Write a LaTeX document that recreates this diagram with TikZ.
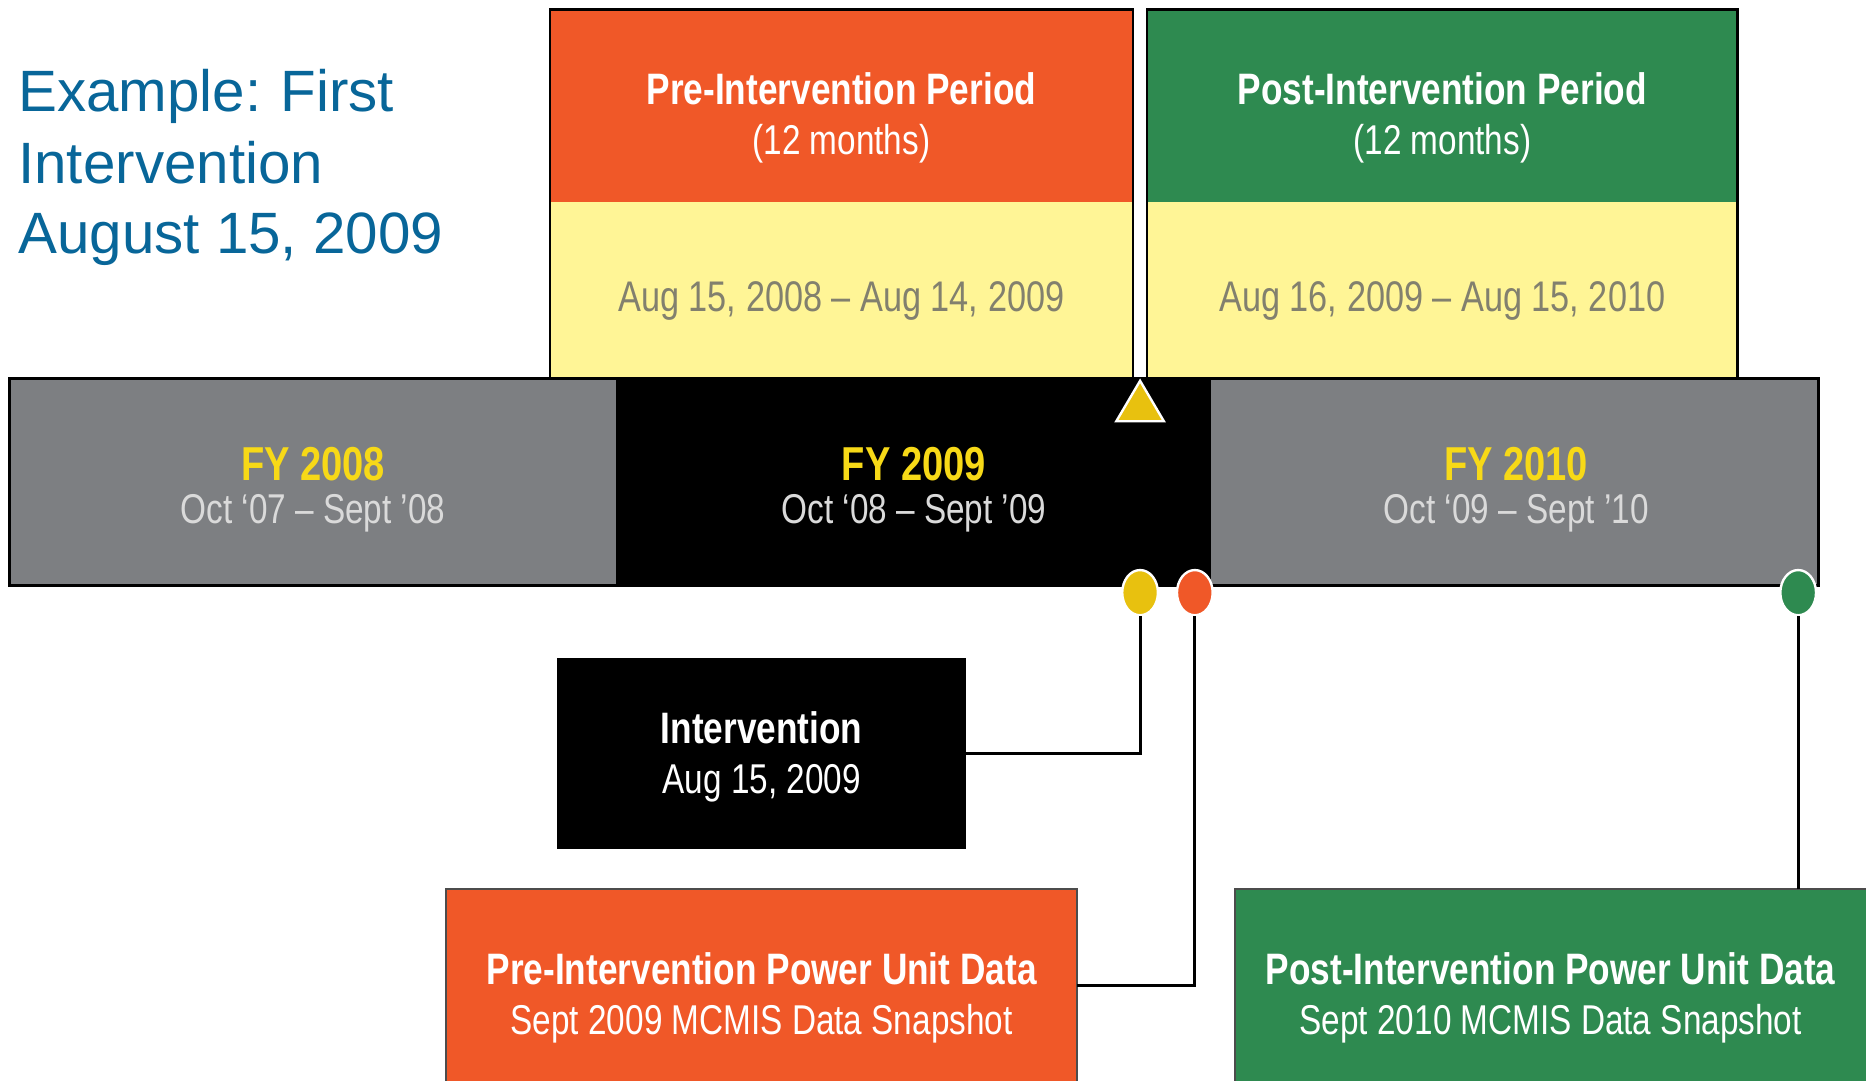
\documentclass[tikz,border=0pt]{standalone}
\usepackage{fontspec}
\setmainfont{Liberation Sans}
\newfontfamily\cond[FakeStretch=0.8]{Liberation Sans}
\usetikzlibrary{shapes.geometric}
\definecolor{ttlblue}{RGB}{8,102,153}
\definecolor{orng}{RGB}{240,88,40}
\definecolor{grn}{RGB}{46,138,80}
\definecolor{lyel}{RGB}{255,245,150}
\definecolor{bargray}{RGB}{125,127,130}
\definecolor{fyyel}{RGB}{247,217,23}
\definecolor{datetxt}{RGB}{130,128,110}
\definecolor{ltxt}{RGB}{218,218,218}
\definecolor{triyel}{RGB}{232,193,15}
\tikzset{
  box/.style={rectangle, inner sep=0pt, outer sep=0pt},
  boldtxt/.style={font=\cond\bfseries\fontsize{18.5}{22}\selectfont, anchor=base, inner sep=0pt},
  regtxt/.style={font=\cond\fontsize{17.5}{22}\selectfont, anchor=base, inner sep=0pt},
  fytxt/.style={font=\cond\bfseries\fontsize{20}{24}\selectfont, anchor=base, inner sep=0pt, text=fyyel},
  ttl/.style={font=\fontsize{24.5}{29}\selectfont, anchor=base west, inner sep=0pt, text=ttlblue},
  dot/.style={ellipse, minimum width=15pt, minimum height=19pt, inner sep=0pt, draw=white, line width=1pt},
  conn/.style={draw=black, line width=1.2pt}
}
\begin{document}
\begin{tikzpicture}[x=0.5pt,y=-0.5pt]
\useasboundingbox (0,0) rectangle (1568,908);
\clip (0,0) rectangle (1568,908);
\fill[white] (0,0) rectangle (1568,908);
% title
\node[ttl] (t1) at (15,94) {Example:\kern-1pt{} First};
\node[ttl] (t2) at (15,154) {Intervention};
\node[ttl] (t3) at (15,213) {August 15, 2009};
% pre period
\node[box, fill=orng, minimum width=245pt, minimum height=81pt] (pretop) at (707,89) {};
\node[box, fill=lyel, minimum width=245pt, minimum height=74pt] (prebot) at (707,244) {};
\draw[line width=1pt] (pretop.north west) rectangle (prebot.south east);
\node[boldtxt, text=white] (pret1) at (707,88) {Pre-Intervention Period};
\node[regtxt, text=white] (pret2) at (707,130) {(12 months)};
\node[regtxt, text=datetxt, font=\cond\fontsize{18}{22}\selectfont] (pred) at (707,262) {Aug 15, 2008 – Aug 14, 2009};
% post period
\node[box, fill=grn, minimum width=248pt, minimum height=81pt] (posttop) at (1212,89) {};
\node[box, fill=lyel, minimum width=248pt, minimum height=74pt] (postbot) at (1212,244) {};
\draw[line width=1pt] (posttop.north west) rectangle (postbot.south east);
\node[boldtxt, text=white] (postt1) at (1212,88) {Post-Intervention Period};
\node[regtxt, text=white] (postt2) at (1212,130) {(12 months)};
\node[regtxt, text=datetxt, font=\cond\fontsize{18}{22}\selectfont] (postd) at (1212,262) {Aug 16, 2009 – Aug 15, 2010};
% timeline bar
\node[box, fill=bargray, minimum width=255pt, minimum height=87pt] (fy8) at (263,405) {};
\node[box, fill=black, minimum width=250pt, minimum height=87pt] (fy9) at (768,405) {};
\node[box, fill=bargray, minimum width=255pt, minimum height=87pt] (fy10) at (1273,405) {};
\draw[line width=1.5pt] (fy8.north west) rectangle (fy10.south east);
\node[fytxt] (fy8a) at (263,404) {FY 2008};
\node[regtxt, text=ltxt] (fy8b) at (263,440) {Oct ‘07 – Sept ’08};
\node[fytxt] (fy9a) at (768,404) {FY 2009};
\node[regtxt, text=ltxt] (fy9b) at (768,440) {Oct ‘08 – Sept ’09};
\node[fytxt] (fy10a) at (1274,404) {FY 2010};
\node[regtxt, text=ltxt] (fy10b) at (1274,440) {Oct ‘09 – Sept ’10};
% triangle marker
\draw[fill=triyel, draw=white, line width=1pt] (958,320) -- (938,354) -- (978,354) -- cycle;
% dots
\node[dot, fill=triyel] (ydot) at (958,498) {};
\node[dot, fill=orng] (odot) at (1004,498) {};
\node[dot, fill=grn] (gdot) at (1511,498) {};
% lower boxes
\node[box, fill=black, minimum width=172pt, minimum height=80pt] (interv) at (640,633) {};
\node[boldtxt, text=white] (intt1) at (640,625) {Intervention};
\node[regtxt, text=white] (intt2) at (640,667) {Aug 15, 2009};
\node[box, fill=orng, draw=black!70, line width=1pt, minimum width=265pt, minimum height=86.5pt] (predata) at (640,833.5) {};
\node[boldtxt, text=white] (pdt1) at (640,827) {Pre-Intervention Power Unit Data};
\node[regtxt, text=white] (pdt2) at (640,869) {Sept 2009 MCMIS Data Snapshot};
\node[box, fill=grn, draw=black!70, line width=1pt, minimum width=270pt, minimum height=86.5pt] (postdata) at (1308,833.5) {};
\node[boldtxt, text=white] (qdt1) at (1303,827) {Post-Intervention Power Unit Data};
\node[regtxt, text=white] (qdt2) at (1303,869) {Sept 2010 MCMIS Data Snapshot};
% connectors
\draw[conn] (ydot.south) |- (interv.east);
\draw[conn] (odot.south) |- (predata.east |- 0,828);
\draw[conn] (gdot.south) -- (gdot.south |- postdata.north);
\end{tikzpicture}
\end{document}
